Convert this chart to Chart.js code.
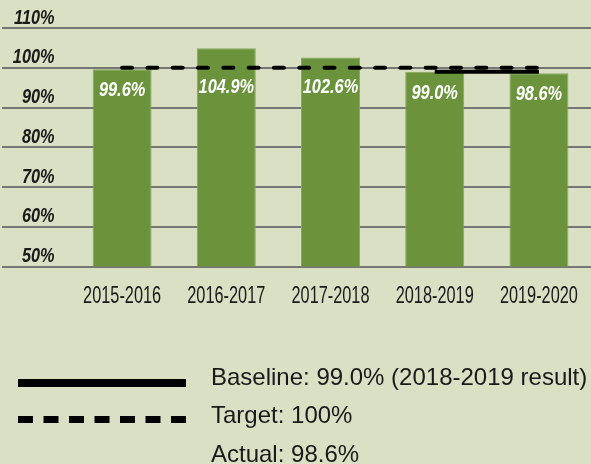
<!DOCTYPE html>
<html>
<head>
<meta charset="utf-8">
<script src="https://cdn.jsdelivr.net/npm/chart.js@4/dist/chart.umd.min.js"></script>
<style>
  html, body { margin: 0; padding: 0; background: #d9e0c4; }
  #wrap { position: relative; width: 591px; height: 464px; }
</style>
</head>
<body>
<div id="wrap"><canvas id="chartRate"></canvas></div>
<script>
// ---- DATA ----
const years = ['2015-2016', '2016-2017', '2017-2018', '2018-2019', '2019-2020'];
const actualValues = [99.6, 104.9, 102.6, 99.0, 98.6];
const targetValues = [100, 100, 100, 100, 100];
const baselineValues = [null, null, null, 99.0, 99.0];
const yTicks = [50, 60, 70, 80, 90, 100, 110];
const legendLabels = ['Baseline: 99.0% (2018-2019 result)', 'Target: 100%', 'Actual: 98.6%'];

const SANS = "'Liberation Sans', Arial, sans-serif";
const TEXT = '#1a1a1a';

// no condensed face installed, so squeeze the text horizontally
function narrowText(ctx, text, x, y, sx) {
    ctx.save();
    ctx.translate(x, y);
    ctx.scale(sx, 1);
    ctx.fillText(text, 0, 0);
    ctx.restore();
}

// axis labels (drawn here so they can be condensed)
const axisLabels = {
    id: 'axisLabels',
    afterDraw(chart) {
        const ctx = chart.ctx;
        const x = chart.scales.x, y = chart.scales.y;
        ctx.save();
        ctx.fillStyle = TEXT;
        ctx.textBaseline = 'middle';

        ctx.font = 'italic bold 20px ' + SANS;
        ctx.textAlign = 'right';
        yTicks.forEach(v => narrowText(ctx, v + '%', 54.5, y.getPixelForValue(v) - 10, 0.815));

        ctx.font = '24px ' + SANS;
        ctx.textAlign = 'center';
        years.forEach((lbl, i) => narrowText(ctx, lbl, x.getPixelForValue(i), chart.chartArea.bottom + 30, 0.68));
        ctx.restore();
    }
};

// white value labels inside the bars
const barLabels = {
    id: 'barLabels',
    afterDatasetsDraw(chart) {
        const ctx = chart.ctx;
        const meta = chart.getDatasetMeta(2);
        const yScale = chart.scales.y;
        ctx.save();
        ctx.fillStyle = '#ffffff';
        ctx.font = 'italic bold 21px ' + SANS;
        ctx.textAlign = 'center';
        ctx.textBaseline = 'middle';
        meta.data.forEach((bar, i) => {
            const yy = Math.max(bar.y + 21, yScale.getPixelForValue(95));
            narrowText(ctx, actualValues[i].toFixed(1) + '%', bar.x, yy, 0.78);
        });
        ctx.restore();
    }
};

// legend rows under the chart
const lineLegend = {
    id: 'lineLegend',
    afterDraw(chart) {
        const ctx = chart.ctx;
        ctx.save();
        ctx.strokeStyle = '#000';
        ctx.lineCap = 'butt';

        ctx.lineWidth = 8;
        ctx.beginPath();
        ctx.moveTo(18, 383);
        ctx.lineTo(186, 383);
        ctx.stroke();

        ctx.lineWidth = 7;
        ctx.setLineDash([15, 10.5]);
        ctx.beginPath();
        ctx.moveTo(18, 419.5);
        ctx.lineTo(186, 419.5);
        ctx.stroke();
        ctx.setLineDash([]);

        ctx.fillStyle = TEXT;
        ctx.font = '24px ' + SANS;
        ctx.textAlign = 'left';
        ctx.textBaseline = 'alphabetic';
        ctx.fillText(legendLabels[0], 211, 385);
        ctx.fillText(legendLabels[1], 211, 423);
        ctx.fillText(legendLabels[2], 211, 461.5);
        ctx.restore();
    }
};

new Chart(document.getElementById('chartRate').getContext('2d'), {
    type: 'bar',
    data: {
        labels: years,
        datasets: [
            {
                type: 'line',
                label: 'Baseline',
                data: baselineValues,
                borderColor: '#000',
                borderWidth: 4,
                pointRadius: 0,
                order: 0
            },
            {
                type: 'line',
                label: 'Target',
                data: targetValues,
                borderColor: '#000',
                borderWidth: 4,
                borderDash: [10, 15.3],
                borderCapStyle: 'round',
                pointRadius: 0,
                order: 1
            },
            {
                label: 'Actual',
                data: actualValues,
                backgroundColor: '#6a933b',
                borderColor: '#86a862',
                borderWidth: 1,
                barPercentage: 0.566,
                categoryPercentage: 1,
                order: 2
            }
        ]
    },
    options: {
        responsive: true,
        maintainAspectRatio: false,
        animation: false,
        layout: { padding: { top: 28, right: 0, bottom: 0, left: 0 } },
        plugins: {
            legend: { display: false },
            tooltip: { enabled: false }
        },
        scales: {
            x: {
                grid: { display: false },
                border: { display: false },
                ticks: { display: false },
                afterFit: (scale) => {
                    scale.height = 197.5;
                    scale.paddingLeft = 0;
                    scale.paddingRight = 0;
                }
            },
            y: {
                min: 50,
                max: 110,
                afterBuildTicks: (scale) => { scale.ticks = yTicks.map(v => ({ value: v })); },
                grid: { color: '#767676', lineWidth: 2, drawTicks: true, tickLength: 68 },
                border: { display: false },
                ticks: { display: false },
                afterFit: (scale) => { scale.width = 70; }
            }
        }
    },
    plugins: [barLabels, axisLabels, lineLegend]
});
</script>
</body>
</html>
